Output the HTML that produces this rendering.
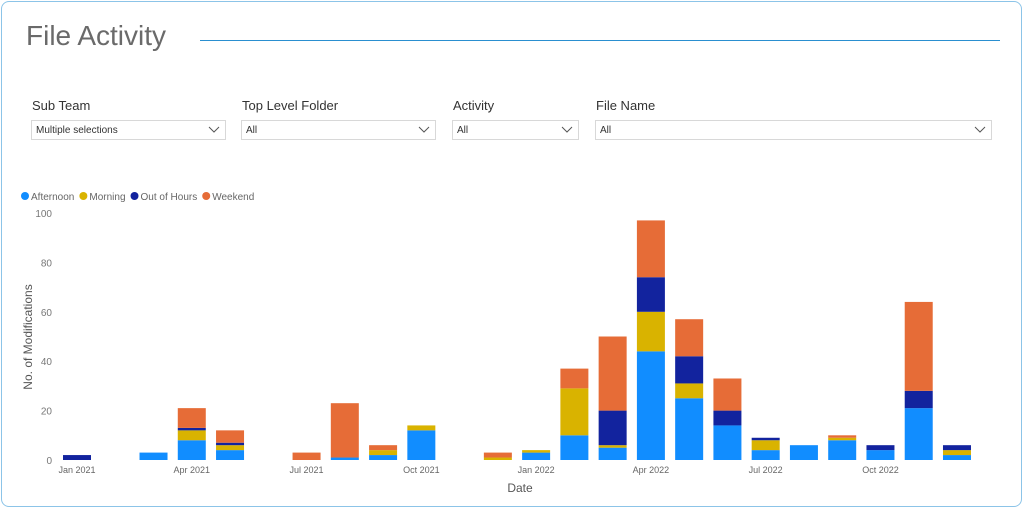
<!DOCTYPE html>
<html><head><meta charset="utf-8"><style>
body{margin:0;width:1024px;height:509px;background:#fff;font-family:"Liberation Sans",sans-serif;overflow:hidden;position:relative}
.frame{position:absolute;left:1px;top:1px;width:1019px;height:504px;border:1px solid #8cc4e8;border-radius:8px}
.title{position:absolute;left:26px;top:20px;font-size:28px;color:#6a6a6a}
.rule{position:absolute;left:200px;top:40px;width:800px;height:1px;background:#2a8fd0}
.lbl{position:absolute;top:98px;font-size:13px;color:#333}
.dd{position:absolute;top:120px;height:20px;border:1px solid #d8d8d8;font-size:10px;color:#333;line-height:20px;padding-left:4px;box-sizing:border-box}
.dd svg{position:absolute;right:5px;top:5px}
</style></head><body>
<div class="frame"></div>
<div class="title">File Activity</div>
<div class="rule"></div>
<div class="lbl" style="left:32px">Sub Team</div>
<div class="lbl" style="left:242px">Top Level Folder</div>
<div class="lbl" style="left:453px">Activity</div>
<div class="lbl" style="left:596px">File Name</div>
<div class="dd" style="left:31px;width:195px">Multiple selections<svg width="12" height="8"><path d="M1 1l5 5 5-5" stroke="#555" fill="none"/></svg></div>
<div class="dd" style="left:241px;width:195px">All<svg width="12" height="8"><path d="M1 1l5 5 5-5" stroke="#555" fill="none"/></svg></div>
<div class="dd" style="left:452px;width:127px">All<svg width="12" height="8"><path d="M1 1l5 5 5-5" stroke="#555" fill="none"/></svg></div>
<div class="dd" style="left:595px;width:397px">All<svg width="12" height="8"><path d="M1 1l5 5 5-5" stroke="#555" fill="none"/></svg></div>
<svg id="chart" width="1024" height="509" style="position:absolute;left:0;top:0"></svg>
<script>
const months=["Jan 2021","Feb 2021","Mar 2021","Apr 2021","May 2021","Jun 2021","Jul 2021","Aug 2021","Sep 2021","Oct 2021","Nov 2021","Dec 2021","Jan 2022","Feb 2022","Mar 2022","Apr 2022","May 2022","Jun 2022","Jul 2022","Aug 2022","Sep 2022","Oct 2022","Nov 2022","Dec 2022"];
const afternoon=[0,0,3,8,4,0,0,1,2,12,0,0,3,10,5,44,25,14,4,6,8,4,21,2];
const morning=[0,0,0,4,2,0,0,0,2,2,0,1,1,19,1,16,6,0,4,0,1,0,0,2];
const outOfHours=[2,0,0,1,1,0,0,0,0,0,0,0,0,0,14,14,11,6,1,0,0,2,7,2];
const weekend=[0,0,0,8,5,0,3,22,2,0,0,2,0,8,30,23,15,13,0,0,1,0,36,0];
const yTicks=[0,20,40,60,80,100];
const xTickLabels=["Jan 2021","Apr 2021","Jul 2021","Oct 2021","Jan 2022","Apr 2022","Jul 2022","Oct 2022"];
const seriesNames=["Afternoon","Morning","Out of Hours","Weekend"];
const colors=["#118DFF","#D9B300","#12239E","#E66C37"];
const svg=document.getElementById('chart');const NS="http://www.w3.org/2000/svg";
function el(t,a,p){const e=document.createElementNS(NS,t);for(const k in a)e.setAttribute(k,a[k]);(p||svg).appendChild(e);return e;}
const y0=460,yPer=2.47;const y=v=>y0-v*yPer;
const x=i=>77+i*38.26;const bw=28;
yTicks.forEach(t=>{const e=el('text',{x:52,y:y(t)+4,'text-anchor':'end','font-size':10,fill:'#777'});e.textContent=t;
});
xTickLabels.forEach(l=>{const i=months.indexOf(l);const e=el('text',{x:x(i),y:473,'text-anchor':'middle','font-size':9,fill:'#666'});e.textContent=l;
});
let t=el('text',{x:520,y:492,'text-anchor':'middle','font-size':12,fill:'#555'});t.textContent='Date';

t=el('text',{x:0,y:0,'text-anchor':'middle','font-size':12,fill:'#555',transform:'translate(32,337) rotate(-90)'});t.textContent='No. of Modifications';

const series=[afternoon,morning,outOfHours,weekend];
months.forEach((m,i)=>{let acc=0;series.forEach((s,k)=>{const v=s[i];if(v>0){const r=el('rect',{x:x(i)-bw/2,y:y(acc+v),width:bw,height:v*yPer,fill:colors[k]});
}acc+=v;});});
let lx=21;seriesNames.forEach((n,k)=>{const c=el('circle',{cx:lx+4,cy:196,r:4,fill:colors[k]});

const tx=el('text',{x:lx+10,y:200,'font-size':10,fill:'#666'});tx.textContent=n;

lx+=10+tx.getComputedTextLength()+5;});
</script>
</body></html>
